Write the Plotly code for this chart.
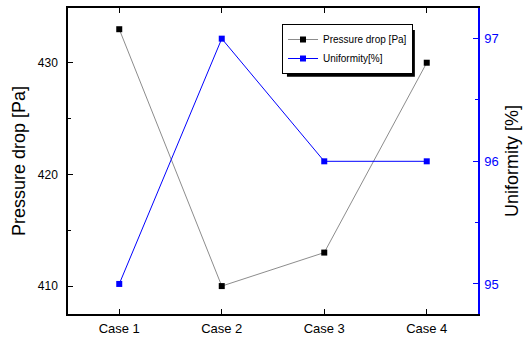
import plotly.graph_objects as go

cases = ["Case 1", "Case 2", "Case 3", "Case 4"]
x_pos = [1, 2, 3, 4]
pressure_drop = [433, 410, 413, 430]
uniformity = [95, 97, 96, 96]

FONT = "Liberation Sans, Arial, sans-serif"

fig = go.Figure()
fig.add_trace(go.Scatter(
    x=x_pos, y=pressure_drop, name="Pressure drop [Pa]", mode="lines+markers",
    line=dict(color="#6e6e6e", width=0.8),
    marker=dict(symbol="square", size=6, color="black"),
))
fig.add_trace(go.Scatter(
    x=x_pos, y=uniformity, name="Uniformity[%]", mode="lines+markers", yaxis="y2",
    line=dict(color="#0000ff", width=1),
    marker=dict(symbol="square", size=6, color="#0000ff"),
))

# legend drop shadow (paper coords)
fig.add_shape(type="rect", xref="paper", yref="paper",
              x0=0.534, x1=0.846, y0=0.775, y1=0.928,
              fillcolor="black", line=dict(width=0), layer="above")

fig.update_layout(
    width=528, height=337,
    margin=dict(l=68, r=50, t=8, b=23, autoexpand=False),
    paper_bgcolor="white", plot_bgcolor="white",
    font=dict(family=FONT, size=12, color="black"),
    showlegend=True,
    legend=dict(x=0.522, y=0.866, xanchor="left", yanchor="middle",
                bgcolor="white", bordercolor="black", borderwidth=1,
                font=dict(size=10, family=FONT), tracegroupgap=0,
                itemwidth=30),
    xaxis=dict(range=[0.5, 4.5], tickvals=x_pos, ticktext=cases, automargin=False,
               showgrid=False, zeroline=False, showline=True, linecolor="black",
               linewidth=1.5, mirror="ticks", ticks="inside", ticklen=5,
               tickcolor="black", tickfont=dict(size=13), ticklabelstandoff=2),
    yaxis=dict(range=[407.5, 434.9], tickvals=[410, 420, 430], automargin=False,
               showgrid=False, zeroline=False, showline=True, linecolor="black",
               linewidth=1.5, ticks="inside", ticklen=5, tickcolor="black",
               minor=dict(tickvals=[415, 425], ticks="inside", ticklen=3, tickcolor="black"),
               tickfont=dict(size=12), ticklabelstandoff=6,
               title=dict(text="Pressure drop [Pa]", font=dict(size=18), standoff=8)),
    yaxis2=dict(range=[94.755, 97.25], tickvals=[95, 96, 97], overlaying="y", side="right",
                automargin=False,
                showgrid=False, zeroline=False, showline=True, linecolor="#0000ff",
                linewidth=1.5, ticks="inside", ticklen=5, tickcolor="#0000ff",
                minor=dict(tickvals=[95.5, 96.5], ticks="inside", ticklen=3, tickcolor="#0000ff"),
                tickfont=dict(size=13, color="#0000ff"), ticklabelstandoff=2,
                title=dict(text="Uniformity [%]", font=dict(size=18, color="black"), standoff=8)),
)

fig.write_html("out.html", config={"displayModeBar": False},
               post_script="document.body.style.margin='0px';")
